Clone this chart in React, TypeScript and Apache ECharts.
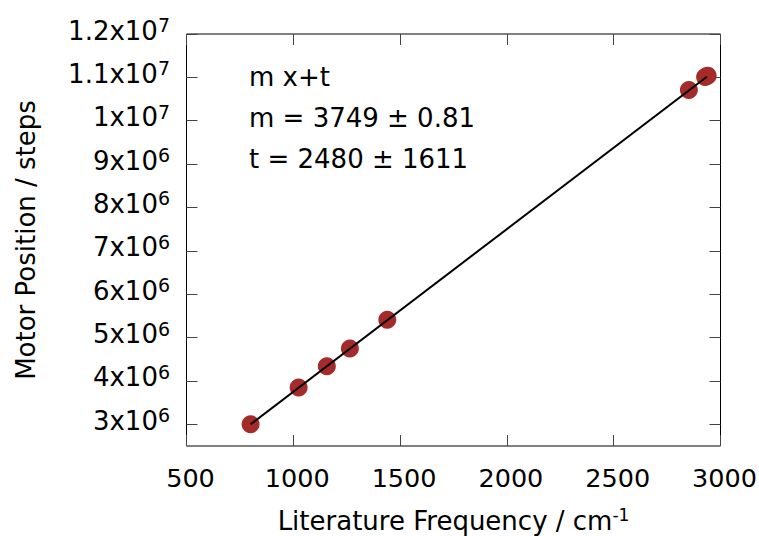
import React, { useEffect, useRef } from "react";
import * as echarts from "echarts";

const frequencies = [800, 1025, 1157, 1265, 1440, 2852, 2928, 2940];
const positions = [3.0e6, 3.85e6, 4.34e6, 4.75e6, 5.41e6, 1.0708e7, 1.101e7, 1.104e7];
const fitX = [800, 2936];
const fitY = [3.0e6, 1.1015e7];
const xTicks = [500, 1000, 1500, 2000, 2500, 3000];
const yTicks = [3e6, 4e6, 5e6, 6e6, 7e6, 8e6, 9e6, 1e7, 1.1e7, 1.2e7];
const annotations = ["m x+t", "m = 3749 ± 0.81", "t = 2480 ± 1611"];

const FONT = "DejaVu Sans";

function sciLabel(v: number): string {
  const exp = Math.floor(Math.log10(v) + 1e-9);
  const mant = Math.round((v / Math.pow(10, exp)) * 10) / 10;
  return `{b|${mant}x10}{s|${exp}}`;
}

export default function App() {
  const ref = useRef<HTMLDivElement>(null);
  useEffect(() => {
    if (!ref.current) return;
    const chart = echarts.init(ref.current, undefined, { renderer: "svg" });
    const tickStyle = { show: true, inside: true, length: 11, lineStyle: { color: "#444", width: 1 } };
    chart.setOption({
      animation: false,
      backgroundColor: "#ffffff",
      grid: {
        left: 186.5,
        right: 38.5,
        top: 34,
        bottom: 90,
        containLabel: false,
        outerBoundsMode: "none",
        show: true,
        borderColor: "#000",
        borderWidth: 1,
        backgroundColor: "transparent",
      },
      xAxis: [
        {
          type: "value",
          min: 500,
          max: 3000,
          position: "bottom",
          axisLine: { show: false },
          splitLine: { show: false },
          axisTick: { ...tickStyle, customValues: xTicks },
          axisLabel: {
            customValues: xTicks,
            formatter: (v: number) => String(v),
            margin: 19,
            fontFamily: FONT,
            fontSize: 25.5,
            color: "#000",
            padding: [0, 0, 0, 8],
          },
          name: "Literature Frequency / cm{s|-1}",
          nameLocation: "middle",
          nameGap: 60,
          nameTextStyle: {
            fontFamily: FONT,
            fontSize: 26,
            lineHeight: 30,
            color: "#000",
            rich: {
              s: { fontFamily: FONT, fontSize: 17, lineHeight: 18, verticalAlign: "top", color: "#000" },
            },
          },
        },
        {
          type: "value",
          min: 500,
          max: 3000,
          position: "top",
          axisLine: { show: false },
          splitLine: { show: false },
          axisTick: { ...tickStyle, customValues: xTicks },
          axisLabel: { show: false },
        },
      ],
      yAxis: [
        {
          type: "value",
          min: 2.5e6,
          max: 1.2e7,
          position: "left",
          axisLine: { show: false },
          splitLine: { show: false },
          axisTick: { ...tickStyle, customValues: yTicks },
          axisLabel: {
            customValues: yTicks,
            margin: 16.5,
            color: "#000",
            padding: [0, 0, 7, 0],
            formatter: (v: number) => sciLabel(v),
            rich: {
              b: { fontFamily: FONT, fontSize: 26, lineHeight: 30, color: "#000" },
              s: { fontFamily: FONT, fontSize: 19, lineHeight: 15, verticalAlign: "top", color: "#000" },
            },
          },
          name: "Motor Position / steps",
          nameLocation: "middle",
          nameGap: 148,
          nameTextStyle: { fontFamily: FONT, fontSize: 26, lineHeight: 26, color: "#000" },
        },
        {
          type: "value",
          min: 2.5e6,
          max: 1.2e7,
          position: "right",
          axisLine: { show: false },
          splitLine: { show: false },
          axisTick: { ...tickStyle, customValues: yTicks },
          axisLabel: { show: false },
        },
      ],
      series: [
        {
          type: "scatter",
          data: frequencies.map((f, i) => [f, positions[i]]),
          symbol: "circle",
          symbolSize: 18,
          itemStyle: { color: "#a52a2a", opacity: 1 },
          z: 2,
        },
        {
          type: "line",
          data: fitX.map((f, i) => [f, fitY[i]]),
          showSymbol: false,
          symbol: "none",
          lineStyle: { color: "#000", width: 2 },
          z: 3,
        },
      ],
      graphic: annotations.map((t, i) => ({
        type: "text",
        left: 249,
        top: 64 + i * 41,
        style: { text: t, fontFamily: FONT, fontSize: 26, fill: "#000" },
      })),
    });
    return () => chart.dispose();
  }, []);
  return (
    <div
      ref={ref}
      style={{ position: "fixed", left: 0, top: 0, width: 759, height: 536 }}
    />
  );
}
